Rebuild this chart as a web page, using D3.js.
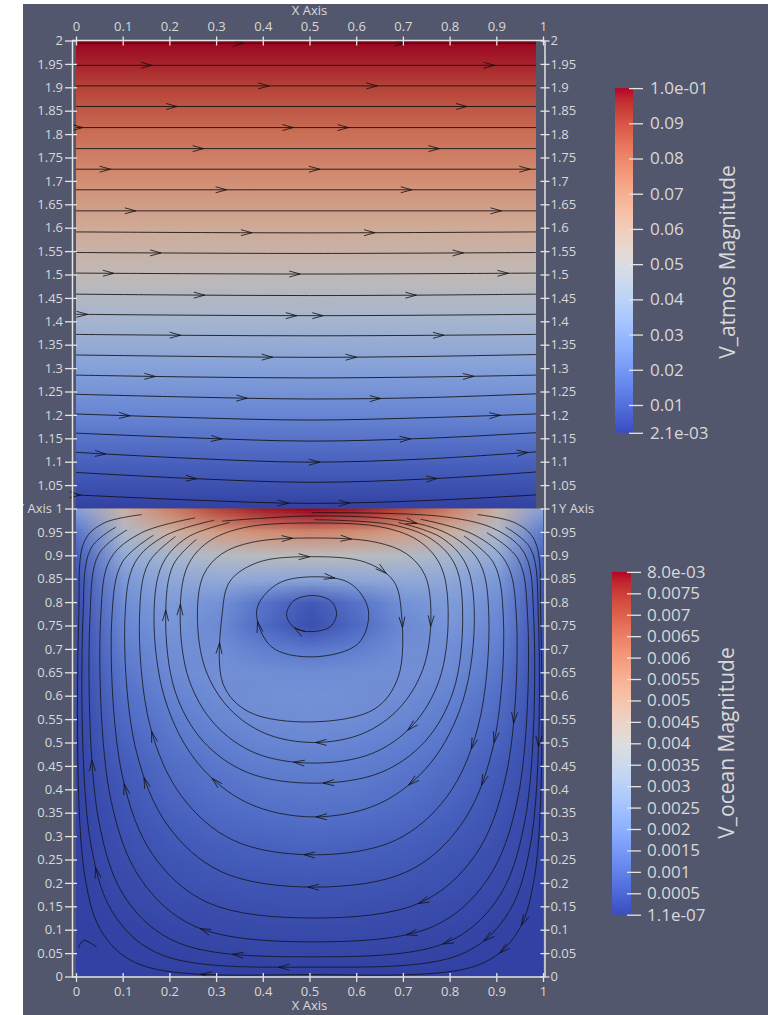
<!DOCTYPE html>
<html>
<head>
<meta charset="utf-8">
<script src="https://cdn.jsdelivr.net/npm/d3@7"></script>
<style>
  body { margin: 0; background: #fff; }
</style>
</head>
<body>
<div id="chart"></div>
<script>
// ---------- data ----------
const xTicks = [0, 0.1, 0.2, 0.3, 0.4, 0.5, 0.6, 0.7, 0.8, 0.9, 1];
const yTicks = [0, 0.05, 0.1, 0.15, 0.2, 0.25, 0.3, 0.35, 0.4, 0.45, 0.5, 0.55, 0.6, 0.65, 0.7, 0.75,
  0.8, 0.85, 0.9, 0.95, 1, 1.05, 1.1, 1.15, 1.2, 1.25, 1.3, 1.35, 1.4, 1.45, 1.5, 1.55, 1.6, 1.65,
  1.7, 1.75, 1.8, 1.85, 1.9, 1.95, 2];

// ParaView "Cool to Warm" colour map, evenly spaced stops
const coolWarm = [[59,76,192],[68,90,204],[77,104,215],[87,117,225],[98,130,234],[108,142,241],
  [119,154,247],[130,165,251],[141,176,254],[152,185,255],[163,194,255],[174,201,253],[184,208,249],
  [194,213,244],[204,217,238],[213,219,230],[221,221,221],[229,216,209],[236,211,197],[241,204,185],
  [245,196,173],[247,187,160],[247,177,148],[247,166,135],[244,154,123],[241,141,111],[236,127,99],
  [229,112,88],[222,96,77],[213,80,66],[203,62,56],[192,40,47],[180,4,38]];

const atmoRange = [0.0021, 0.1];
const atmoBarTicks = [0.0021, 0.01, 0.02, 0.03, 0.04, 0.05, 0.06, 0.07, 0.08, 0.09, 0.1];
const atmoBarLabels = ["2.1e-03", "0.01", "0.02", "0.03", "0.04", "0.05", "0.06", "0.07", "0.08", "0.09", "1.0e-01"];
const oceanRange = [1.1e-7, 0.008];
const oceanBarTicks = [1.1e-7, 0.0005, 0.001, 0.0015, 0.002, 0.0025, 0.003, 0.0035, 0.004, 0.0045,
  0.005, 0.0055, 0.006, 0.0065, 0.007, 0.0075, 0.008];
const oceanBarLabels = ["1.1e-07", "0.0005", "0.001", "0.0015", "0.002", "0.0025", "0.003", "0.0035",
  "0.004", "0.0045", "0.005", "0.0055", "0.006", "0.0065", "0.007", "0.0075", "8.0e-03"];

// atmosphere |V| against height
const atmoY = [1.0, 1.1, 1.2, 1.3, 1.4, 1.5, 1.6, 1.7, 1.8, 1.9, 2.0];
const atmoMag = [0.0021, 0.011, 0.021, 0.031, 0.042, 0.053, 0.062, 0.072, 0.081, 0.091, 0.1];

// ocean |V| (x 1e-3) on a grid, rows from y=1 down to y=0
const oceanGridX = [0, 0.1, 0.2, 0.3, 0.4, 0.5, 0.6, 0.7, 0.8, 0.9, 1];
const oceanGridY = [1, 0.95, 0.9, 0.85, 0.8, 0.75, 0.7, 0.65, 0.6, 0.55, 0.5, 0.45, 0.4, 0.35, 0.3,
  0.25, 0.2, 0.15, 0.1, 0.05, 0];
const oceanMag = [
  [2.4, 4.6, 6.1, 7.2, 7.8, 8.0, 7.8, 7.2, 6.1, 4.6, 2.4],
  [1.2, 3.5, 4.6, 5.3, 5.7, 5.9, 5.7, 5.3, 4.6, 3.5, 1.2],
  [0.7, 2.7, 3.3, 3.7, 3.9, 4.0, 3.9, 3.7, 3.3, 2.7, 0.7],
  [0.45, 2.1, 2.6, 2.7, 2.6, 2.5, 2.6, 2.7, 2.6, 2.1, 0.45],
  [0.35, 1.8, 2.2, 1.9, 1.1, 0.5, 1.1, 1.9, 2.2, 1.8, 0.35],
  [0.3, 1.6, 2.0, 1.7, 0.9, 0.3, 0.9, 1.7, 2.0, 1.6, 0.3],
  [0.25, 1.4, 1.8, 1.8, 1.4, 1.2, 1.4, 1.8, 1.8, 1.4, 0.25],
  [0.2, 1.2, 1.7, 1.85, 1.8, 1.75, 1.8, 1.85, 1.7, 1.2, 0.2],
  [0.2, 1.0, 1.5, 1.75, 1.85, 1.9, 1.85, 1.75, 1.5, 1.0, 0.2],
  [0.15, 0.9, 1.3, 1.6, 1.75, 1.8, 1.75, 1.6, 1.3, 0.9, 0.15],
  [0.12, 0.75, 1.15, 1.4, 1.55, 1.6, 1.55, 1.4, 1.15, 0.75, 0.12],
  [0.1, 0.6, 0.95, 1.2, 1.35, 1.4, 1.35, 1.2, 0.95, 0.6, 0.1],
  [0.08, 0.5, 0.85, 1.05, 1.2, 1.25, 1.2, 1.05, 0.85, 0.5, 0.08],
  [0.07, 0.42, 0.7, 0.9, 1.0, 1.05, 1.0, 0.9, 0.7, 0.42, 0.07],
  [0.05, 0.35, 0.55, 0.72, 0.8, 0.85, 0.8, 0.72, 0.55, 0.35, 0.05],
  [0.04, 0.27, 0.43, 0.56, 0.62, 0.65, 0.62, 0.56, 0.43, 0.27, 0.04],
  [0.03, 0.2, 0.33, 0.42, 0.47, 0.48, 0.47, 0.42, 0.33, 0.2, 0.03],
  [0.02, 0.13, 0.22, 0.28, 0.32, 0.33, 0.32, 0.28, 0.22, 0.13, 0.02],
  [0.01, 0.07, 0.13, 0.17, 0.2, 0.2, 0.2, 0.17, 0.13, 0.07, 0.01],
  [0, 0.03, 0.06, 0.08, 0.1, 0.1, 0.1, 0.08, 0.06, 0.03, 0],
  [0, 0, 0, 0, 0, 0, 0, 0, 0, 0, 0]
];

// atmosphere streamlines, points [x, y]
const atmoLines = [
  [[0, 1.994], [0.985, 1.994]],
  [[0, 1.947], [0.985, 1.947]],
  [[0, 1.903], [0.985, 1.903]],
  [[0, 1.859], [0.985, 1.859]],
  [[0, 1.814], [0.985, 1.814]],
  [[0, 1.769], [0.985, 1.769]],
  [[0, 1.725], [0.985, 1.725]],
  [[0, 1.681], [0.985, 1.681]],
  [[0, 1.636], [0.985, 1.636]],
  [[0, 1.591], [0.5, 1.589], [0.985, 1.591]],
  [[0, 1.547], [0.5, 1.545], [0.985, 1.547]],
  [[0, 1.503], [0.5, 1.501], [0.985, 1.503]],
  [[0, 1.458], [0.25, 1.456], [0.5, 1.455], [0.75, 1.456], [0.985, 1.458]],
  [[0, 1.415], [0.25, 1.413], [0.5, 1.412], [0.75, 1.413], [0.985, 1.415]],
  [[0, 1.372], [0.25, 1.37], [0.5, 1.369], [0.75, 1.37], [0.985, 1.372]],
  [[0, 1.328], [0.25, 1.325], [0.5, 1.323], [0.75, 1.325], [0.985, 1.329]],
  [[0, 1.285], [0.25, 1.281], [0.5, 1.279], [0.75, 1.281], [0.985, 1.285]],
  [[0, 1.244], [0.25, 1.238], [0.5, 1.234], [0.75, 1.237], [0.985, 1.245]],
  [[0, 1.202], [0.25, 1.194], [0.5, 1.189], [0.75, 1.194], [0.985, 1.202]],
  [[0, 1.161], [0.25, 1.151], [0.5, 1.144], [0.75, 1.15], [0.985, 1.162]],
  [[0, 1.12], [0.25, 1.107], [0.5, 1.099], [0.75, 1.106], [0.985, 1.121]],
  [[0, 1.077], [0.25, 1.064], [0.5, 1.056], [0.75, 1.063], [0.985, 1.078]],
  [[0, 1.029], [0.25, 1.018], [0.5, 1.011], [0.75, 1.017], [0.985, 1.029]]
];
// arrow x positions on each atmosphere line
const atmoArrowX = [
  [0.359, 0.704], [0.163, 0.897], [0.413, 0.645], [0.216, 0.837], [0.016, 0.466, 0.584],
  [0.273, 0.777], [0.073, 0.523, 0.972], [0.323, 0.719], [0.127, 0.912], [0.377, 0.641],
  [0.181, 0.83], [0.081, 0.48, 0.927], [0.277, 0.73], [0.024, 0.473, 0.53], [0.223, 0.787],
  [0.42, 0.602], [0.17, 0.852], [0.366, 0.652], [0.116, 0.909], [0.313, 0.716],
  [0.063, 0.523, 0.969], [0.259, 0.773], [0.009, 0.455, 0.587]
];

// ocean streamlines in flow order (clockwise on screen), points [x, y]
const oceanLines = [
  [[0.505, 0.814], [0.545, 0.803], [0.558, 0.776], [0.545, 0.748], [0.505, 0.737], [0.468, 0.745], [0.451, 0.772], [0.465, 0.802]],
  [[0.505, 0.854], [0.587, 0.84], [0.626, 0.783], [0.605, 0.712], [0.508, 0.683], [0.418, 0.705], [0.387, 0.783], [0.43, 0.838]],
  [[0.505, 0.897], [0.62, 0.885], [0.68, 0.845], [0.697, 0.775], [0.69, 0.64], [0.64, 0.572], [0.505, 0.544], [0.369, 0.566], [0.315, 0.625], [0.313, 0.775], [0.33, 0.845], [0.39, 0.885]],
  [[0.51, 0.937], [0.642, 0.928], [0.708, 0.903], [0.747, 0.858], [0.76, 0.77], [0.743, 0.657], [0.692, 0.573], [0.614, 0.519], [0.51, 0.5], [0.406, 0.519], [0.328, 0.573], [0.277, 0.657], [0.26, 0.77], [0.273, 0.858], [0.312, 0.903], [0.378, 0.928]],
  [[0.51, 0.969], [0.661, 0.959], [0.738, 0.928], [0.782, 0.875], [0.797, 0.77], [0.778, 0.634], [0.722, 0.538], [0.635, 0.477], [0.51, 0.456], [0.385, 0.477], [0.298, 0.538], [0.242, 0.634], [0.223, 0.77], [0.238, 0.875], [0.282, 0.928], [0.359, 0.959]],
  [[0.51, 0.976], [0.678, 0.965], [0.762, 0.934], [0.812, 0.879], [0.828, 0.77], [0.808, 0.61], [0.748, 0.503], [0.653, 0.436], [0.51, 0.413], [0.367, 0.436], [0.272, 0.503], [0.212, 0.61], [0.192, 0.77], [0.208, 0.879], [0.258, 0.934]],
  [[0.691, 0.97], [0.782, 0.938], [0.835, 0.881], [0.853, 0.77], [0.829, 0.591], [0.76, 0.457], [0.653, 0.371], [0.51, 0.341], [0.367, 0.371], [0.26, 0.457], [0.191, 0.591], [0.167, 0.77], [0.185, 0.881], [0.238, 0.938], [0.329, 0.97]],
  [[0.313, 0.973], [0.51, 0.984], [0.707, 0.973], [0.807, 0.94], [0.865, 0.883], [0.884, 0.77], [0.861, 0.534], [0.794, 0.384], [0.684, 0.291], [0.51, 0.26], [0.337, 0.291], [0.227, 0.384], [0.159, 0.534], [0.136, 0.77], [0.155, 0.883], [0.213, 0.94]],
  [[0.831, 0.941], [0.894, 0.884], [0.915, 0.77], [0.892, 0.486], [0.823, 0.322], [0.709, 0.224], [0.51, 0.191], [0.311, 0.224], [0.197, 0.322], [0.128, 0.486], [0.105, 0.77], [0.126, 0.884], [0.189, 0.941], [0.296, 0.975]],
  [[0.738, 0.977], [0.854, 0.943], [0.921, 0.885], [0.943, 0.77], [0.921, 0.43], [0.854, 0.258], [0.738, 0.158], [0.51, 0.125], [0.282, 0.158], [0.166, 0.258], [0.099, 0.43], [0.077, 0.77], [0.099, 0.885], [0.166, 0.943]],
  [[0.88, 0.948], [0.946, 0.893], [0.967, 0.77], [0.946, 0.381], [0.88, 0.206], [0.765, 0.107], [0.51, 0.074], [0.255, 0.107], [0.14, 0.206], [0.074, 0.381], [0.053, 0.77], [0.074, 0.893], [0.14, 0.948], [0.255, 0.98]],
  [[0.505, 0.991], [0.792, 0.982], [0.901, 0.954], [0.961, 0.903], [0.98, 0.77], [0.961, 0.331], [0.901, 0.163], [0.792, 0.072], [0.505, 0.042], [0.219, 0.072], [0.109, 0.163], [0.049, 0.331], [0.03, 0.77], [0.049, 0.903], [0.109, 0.954]],
  [[0.92, 0.96], [0.973, 0.915], [0.99, 0.77], [0.973, 0.281], [0.92, 0.127], [0.821, 0.046], [0.503, 0.02], [0.184, 0.046], [0.085, 0.127], [0.032, 0.281], [0.015, 0.77], [0.032, 0.915], [0.085, 0.96]],
  [[0.86, 0.987], [0.941, 0.969], [0.982, 0.932], [0.995, 0.77], [0.982, 0.214], [0.941, 0.088], [0.86, 0.024], [0.5, 0.004], [0.141, 0.024], [0.06, 0.088], [0.019, 0.214], [0.006, 0.77], [0.019, 0.932], [0.06, 0.969], [0.141, 0.987]],
  [[0.005, 0.061], [0.016, 0.077], [0.044, 0.063]]
];
const oceanClosed = [true, true, true, true, true, false, false, false, false, false, false, false, false, false, false];
// arrow spots seen on the ocean streamlines
const oceanArrows = [
  [0.469, 0.747], [0.555, 0.851], [0.387, 0.758], [0.501, 0.897], [0.668, 0.865], [0.687, 0.744],
  [0.33, 0.712], [0.465, 0.94], [0.59, 0.936], [0.769, 0.747], [0.73, 0.97], [0.194, 0.783],
  [0.226, 0.797], [0.512, 0.5], [0.465, 0.459], [0.53, 0.413], [0.515, 0.341], [0.487, 0.26],
  [0.497, 0.191], [0.262, 0.099], [0.333, 0.05], [0.433, 0.021], [0.269, 0.003], [0.694, 0.541],
  [0.833, 0.491], [0.883, 0.502], [0.933, 0.541], [0.99, 0.491], [0.704, 0.42], [0.854, 0.416],
  [0.73, 0.163], [0.708, 0.092], [0.783, 0.074], [0.876, 0.074], [0.919, 0.039], [0.994, 0.092],
  [0.041, 0.463], [0.087, 0.406], [0.141, 0.424], [0.151, 0.52], [0.294, 0.424], [0.055, 0.235]
];

// ---------- drawing ----------
const W = 768, H = 1015;
const svg = d3.select("#chart").append("svg")
  .attr("width", W).attr("height", H);

const x = d3.scaleLinear().domain([0, 1]).range([76, 543]);
const y = d3.scaleLinear().domain([0, 2]).range([976.5, 40.5]);

const shade = 0.85;   // lit surface is a bit darker than the colour bar
const fontFam = "'Open Sans', 'DejaVu Sans', sans-serif";
const textCol = "#d9d9d9";

function coolWarmScale(domain, k) {
  const n = coolWarm.length;
  return d3.scaleLinear()
    .domain(coolWarm.map((c, i) => domain[0] + (domain[1] - domain[0]) * i / (n - 1)))
    .range(coolWarm.map(c => d3.rgb(c[0] * k, c[1] * k, c[2] * k).toString()))
    .clamp(true);
}
const atmoColor = coolWarmScale(atmoRange, shade);
const oceanColor = coolWarmScale(oceanRange, shade);

const defs = svg.append("defs");
defs.append("clipPath").attr("id", "panelClip")
  .append("rect").attr("x", 23).attr("y", 4).attr("width", W - 23).attr("height", H - 4);
defs.append("clipPath").attr("id", "oceanClip")
  .append("rect").attr("x", x(0)).attr("y", y(1)).attr("width", x(1) - x(0)).attr("height", y(0) - y(1));

svg.append("rect").attr("x", 23).attr("y", 4).attr("width", W - 23).attr("height", H - 4)
  .attr("fill", "#52576e");

// atmosphere field
const atmoGrad = defs.append("linearGradient").attr("id", "atmoGrad")
  .attr("gradientUnits", "userSpaceOnUse")
  .attr("x1", 0).attr("x2", 0).attr("y1", y(1)).attr("y2", y(2));
atmoY.forEach((v, i) => {
  atmoGrad.append("stop").attr("offset", (v - 1)).attr("stop-color", atmoColor(atmoMag[i]));
});
svg.append("rect")
  .attr("x", x(0)).attr("y", y(2)).attr("width", x(0.985) - x(0)).attr("height", y(1) - y(2))
  .attr("fill", "url(#atmoGrad)");

// ocean field: small image of the grid, smoothed by the browser
const nx = oceanGridX.length, ny = oceanGridY.length;
const cnv = document.createElement("canvas");
cnv.width = nx; cnv.height = ny;
const ctx = cnv.getContext("2d");
const img = ctx.createImageData(nx, ny);
oceanMag.forEach((row, j) => row.forEach((v, i) => {
  const c = d3.rgb(oceanColor(v * 1e-3));
  const k = 4 * (j * nx + i);
  img.data[k] = c.r; img.data[k + 1] = c.g; img.data[k + 2] = c.b; img.data[k + 3] = 255;
}));
ctx.putImageData(img, 0, 0);
const gdx = oceanGridX[1] - oceanGridX[0], gdy = oceanGridY[0] - oceanGridY[1];
svg.append("image")
  .attr("href", cnv.toDataURL())
  .attr("x", x(-gdx / 2)).attr("y", y(1 + gdy / 2))
  .attr("width", x(1 + gdx / 2) - x(-gdx / 2)).attr("height", y(-gdy / 2) - y(1 + gdy / 2))
  .attr("preserveAspectRatio", "none")
  .attr("clip-path", "url(#oceanClip)");

// streamlines
const openLine = d3.line().x(d => x(d[0])).y(d => y(d[1])).curve(d3.curveCatmullRom.alpha(0.5));
const loopLine = d3.line().x(d => x(d[0])).y(d => y(d[1])).curve(d3.curveCatmullRomClosed.alpha(0.5));

const gStream = svg.append("g").attr("fill", "none").attr("stroke", "#111");
const atmoPaths = gStream.selectAll(".atmo").data(atmoLines).join("path")
  .attr("class", "atmo").attr("d", openLine)
  .attr("stroke-width", 1).attr("stroke-opacity", 0.85);
const oceanPaths = gStream.selectAll(".ocean").data(oceanLines).join("path")
  .attr("class", "ocean").attr("d", (d, i) => oceanClosed[i] ? loopLine(d) : openLine(d))
  .attr("stroke-width", 0.9).attr("stroke-opacity", 0.85)
  .attr("clip-path", "url(#oceanClip)");

function samplePath(node, n) {
  const L = node.getTotalLength(), pts = [];
  for (let i = 0; i <= n; i++) {
    const p = node.getPointAtLength(L * i / n);
    pts.push([p.x, p.y]);
  }
  return pts;
}
function chevron(pts, k) {
  const a = pts[Math.max(0, k - 2)], b = pts[Math.min(pts.length - 1, k + 2)];
  let ux = b[0] - a[0], uy = b[1] - a[1];
  const len = Math.hypot(ux, uy) || 1;
  ux /= len; uy /= len;
  const L = 11, Wd = 3, t = pts[k];
  return `M${t[0] - L * ux - Wd * uy},${t[1] - L * uy + Wd * ux}L${t[0]},${t[1]}` +
    `L${t[0] - L * ux + Wd * uy},${t[1] - L * uy - Wd * ux}`;
}

const gArrows = svg.append("g").attr("fill", "none").attr("stroke", "#111")
  .attr("stroke-width", 0.9).attr("stroke-opacity", 0.9);

atmoPaths.each(function (d, i) {
  const pts = samplePath(this, 400);
  atmoArrowX[i].forEach(ax => {
    const px = x(ax);
    let best = 0;
    pts.forEach((p, k) => { if (Math.abs(p[0] - px) < Math.abs(pts[best][0] - px)) best = k; });
    gArrows.append("path").attr("d", chevron(pts, best));
  });
});

const oceanSamples = [];
oceanPaths.each(function () { oceanSamples.push(samplePath(this, 500)); });
oceanArrows.forEach(a => {
  const px = x(a[0]), py = y(a[1]);
  let bi = 0, bk = 0, bd = Infinity;
  oceanSamples.forEach((pts, i) => pts.forEach((p, k) => {
    const dd = (p[0] - px) ** 2 + (p[1] - py) ** 2;
    if (dd < bd) { bd = dd; bi = i; bk = k; }
  }));
  gArrows.append("path").attr("d", chevron(oceanSamples[bi], bk));
});

// ---------- cube axes ----------
const fmt = v => String(+v.toFixed(2));
function styleAxis(g) {
  g.attr("color", "#e4e4e4").attr("font-family", fontFam).attr("font-size", 13);
  g.select(".domain").attr("stroke-width", 1.5);
  g.selectAll(".tick line").attr("stroke-width", 1.3);
  g.selectAll(".tick text").attr("fill", textCol);
}

const gLeft = svg.append("g").attr("transform", `translate(${x(0) - 4},0)`)
  .call(d3.axisLeft(y).tickValues(yTicks).tickFormat(fmt).tickSize(0).tickSizeOuter(0).tickPadding(9))
  .call(styleAxis);
gLeft.selectAll(".tick line").attr("x1", -7).attr("x2", 5);

const gRight = svg.append("g").attr("transform", `translate(${x(1) + 1.5},0)`)
  .call(d3.axisRight(y).tickValues(yTicks).tickFormat(fmt).tickSize(0).tickSizeOuter(0).tickPadding(6))
  .call(styleAxis);
gRight.selectAll(".tick line").attr("x1", -4).attr("x2", 5);

const gBottom = svg.append("g").attr("transform", `translate(0,${y(0) + 0.5})`)
  .call(d3.axisBottom(x).tickValues(xTicks).tickFormat(fmt).tickSize(0).tickSizeOuter(0))
  .call(styleAxis);
gBottom.select(".domain").attr("d", `M${x(0) - 4},0H${x(1) + 1.5}`);
gBottom.selectAll(".tick line").attr("y1", -4).attr("y2", 5);
gBottom.selectAll(".tick text").attr("y", 18.5).attr("dy", 0);

const gTop = svg.append("g").attr("transform", `translate(0,${y(2)})`)
  .call(d3.axisTop(x).tickValues(xTicks).tickFormat(fmt).tickSize(0).tickSizeOuter(0))
  .call(styleAxis);
gTop.select(".domain").attr("d", `M${x(0) - 4},0H${x(1) + 1.5}`);
gTop.selectAll(".tick line").attr("y1", -4).attr("y2", 5);
gTop.selectAll(".tick text").attr("y", -10).attr("dy", 0);

// axis titles
const gTitles = svg.append("g").attr("font-family", fontFam).attr("font-size", 13)
  .attr("fill", textCol).attr("clip-path", "url(#panelClip)");
gTitles.append("text").attr("x", (x(0) + x(1)) / 2).attr("y", 15).attr("text-anchor", "middle").text("X Axis");
gTitles.append("text").attr("x", (x(0) + x(1)) / 2).attr("y", 1010).attr("text-anchor", "middle").text("X Axis");
gTitles.append("text").attr("x", 52).attr("y", y(1)).attr("dy", "0.32em").attr("text-anchor", "end").text("Y Axis");
gTitles.append("text").attr("x", 559).attr("y", y(1)).attr("dy", "0.32em").text("Y Axis");

// ---------- colour bars ----------
function colorBar(opts) {
  const s = d3.scaleLinear().domain(opts.range).range([opts.y1, opts.y0]);
  const id = opts.id;
  const grad = defs.append("linearGradient").attr("id", id)
    .attr("gradientUnits", "userSpaceOnUse")
    .attr("x1", 0).attr("x2", 0).attr("y1", opts.y1).attr("y2", opts.y0);
  coolWarm.forEach((c, i) => grad.append("stop")
    .attr("offset", i / (coolWarm.length - 1)).attr("stop-color", d3.rgb(c[0], c[1], c[2])));
  svg.append("rect").attr("x", opts.x).attr("y", opts.y0)
    .attr("width", opts.w).attr("height", opts.y1 - opts.y0).attr("fill", `url(#${id})`);
  const g = svg.append("g").attr("transform", `translate(${opts.x + opts.w},0)`)
    .call(d3.axisRight(s).tickValues(opts.ticks).tickFormat((d, i) => opts.labels[i])
      .tickSize(0).tickSizeOuter(0).tickPadding(opts.pad));
  g.select(".domain").remove();
  g.attr("color", "#e4e4e4").attr("font-family", fontFam).attr("font-size", 17);
  g.selectAll(".tick line").attr("x1", -4).attr("x2", 10).attr("stroke-width", 1.3);
  g.selectAll(".tick text").attr("fill", textCol);
  svg.append("text")
    .attr("transform", `translate(${opts.tx},${opts.ty}) rotate(-90)`)
    .attr("text-anchor", "middle").attr("dy", "0.35em")
    .attr("font-family", fontFam).attr("font-size", 21).attr("fill", textCol)
    .text(opts.title);
}
colorBar({ id: "atmoBar", range: atmoRange, ticks: atmoBarTicks, labels: atmoBarLabels,
  x: 615, w: 18, y0: 88.1, y1: 432.8, pad: 17, tx: 728, ty: 262, title: "V_atmos Magnitude" });
colorBar({ id: "oceanBar", range: oceanRange, ticks: oceanBarTicks, labels: oceanBarLabels,
  x: 612, w: 19, y0: 571.9, y1: 914.7, pad: 16, tx: 727, ty: 743, title: "V_ocean Magnitude" });
</script>
</body>
</html>
